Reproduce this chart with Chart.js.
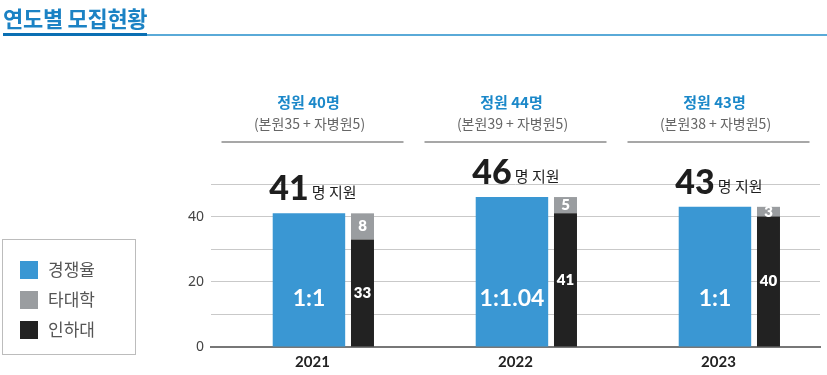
<!DOCTYPE html>
<html>
<head>
<meta charset="utf-8">
<script src="https://cdn.jsdelivr.net/npm/chart.js@4"></script>
<style>
  body { margin: 0; background: #fff; font-family: 'Noto Sans CJK KR', 'Noto Sans', sans-serif; }
  #wrap { position: relative; width: 827px; height: 375px; overflow: hidden; }
  #chartBox { position: absolute; left: 0; top: 0; width: 827px; height: 375px; }
  #title { position: absolute; left: 3px; top: 1px; font-size: 22px; font-weight: 700; color: #1b82c4; letter-spacing: -0.3px; }
  #lineThick { position: absolute; left: 3px; top: 33px; width: 144px; height: 3px; background: #0a6fb3; }
  #lineThin { position: absolute; left: 147px; top: 34px; width: 680px; height: 1.5px; background: #5aaad8; }
  #legend { position: absolute; left: 2px; top: 239px; width: 134px; height: 116px; border: 1.5px solid #bcbcbc; box-sizing: border-box; }
  .item { position: absolute; left: 17px; height: 20px; font-size: 17px; color: #555; line-height: 20px; }
  .item span { display: inline-block; width: 18px; height: 18px; vertical-align: -3px; margin-right: 10px; }
</style>
</head>
<body>
<div id="wrap">
  <div id="chartBox"><canvas id="myChart"></canvas></div>
  <div id="title">연도별 모집현황</div>
  <div id="lineThick"></div>
  <div id="lineThin"></div>
  <div id="legend"></div>
</div>
<script>
const years = ['2021', '2022', '2023'];
const applicants = [41, 46, 43];
const ratioLabels = ['1:1', '1:1.04', '1:1'];
const inhaValues = [33, 41, 40];
const otherValues = [8, 5, 3];
const quotaTotals = [40, 44, 43];
const quotaMain = [35, 39, 38];
const quotaSub = [5, 5, 5];

const legendNames = ['경쟁율', '타대학', '인하대'];
const legendColors = ['#3a97d3', '#9a9da0', '#222222'];

// html legend box
var legendBox = document.getElementById('legend');
for (let i = 0; i < legendNames.length; i++) {
    var div = document.createElement('div');
    div.className = 'item';
    div.style.top = (19 + i * 30) + 'px';
    div.innerHTML = '<span style="background:' + legendColors[i] + '"></span>' + legendNames[i];
    legendBox.appendChild(div);
}

const labelPlugin = {
    id: 'labels',
    afterDatasetsDraw(chart) {
        const c = chart.ctx;
        const x = chart.scales.x;
        const y = chart.scales.y;
        const blue = chart.getDatasetMeta(0).data;
        const black = chart.getDatasetMeta(1).data;
        const grey = chart.getDatasetMeta(2).data;
        c.save();
        c.textAlign = 'center';
        c.textBaseline = 'middle';
        for (let i = 0; i < years.length; i++) {
            // ratio inside blue bar
            c.fillStyle = '#fff';
            c.font = 'bold 23px Lato, "Noto Sans", sans-serif';
            c.fillText(ratioLabels[i], blue[i].x, y.getPixelForValue(15));
            // stacked values
            c.font = '800 15px Lato, "Noto Sans", sans-serif';
            c.fillText(inhaValues[i], black[i].x, (black[i].y + black[i].base) / 2);
            c.fillText(otherValues[i], grey[i].x, (grey[i].y + grey[i].base) / 2);

            // applicants above blue bar
            var bigText = String(applicants[i]);
            var smallText = '명 지원';
            c.font = '900 34px Lato, "Noto Sans", sans-serif';
            var w1 = c.measureText(bigText).width;
            c.font = '15px "Noto Sans CJK KR", sans-serif';
            var w2 = c.measureText(smallText).width;
            var startX = blue[i].x + 4 - (w1 + 3 + w2) / 2;
            var base = blue[i].y - 13;
            c.textAlign = 'left';
            c.textBaseline = 'alphabetic';
            c.fillStyle = '#1e1e1e';
            c.font = '900 34px Lato, "Noto Sans", sans-serif';
            c.fillText(bigText, startX, base);
            c.font = '15px "Noto Sans CJK KR", sans-serif';
            c.fillText(smallText, startX + w1 + 3, base - 2);
            c.textAlign = 'center';
            c.textBaseline = 'middle';

            // quota headings
            var cx = x.getPixelForValue(i);
            c.fillStyle = '#1b88c9';
            c.font = 'bold 15px "Noto Sans CJK KR", sans-serif';
            c.fillText('정원 ' + quotaTotals[i] + '명', cx - 4, 102);
            c.fillStyle = '#666';
            c.font = '14px "Noto Sans CJK KR", sans-serif';
            c.fillText('(본원' + quotaMain[i] + ' + 자병원' + quotaSub[i] + ')', cx - 3, 124);
            c.strokeStyle = '#8a8a8a';
            c.lineWidth = 1.5;
            c.beginPath();
            c.moveTo(cx - 91, 142);
            c.lineTo(cx + 91, 142);
            c.stroke();
        }
        c.restore();
    }
};

const ctx = document.getElementById('myChart');
new Chart(ctx, {
    type: 'bar',
    data: {
        labels: years,
        datasets: [
            {
                label: '경쟁율',
                data: applicants,
                stack: 'a',
                backgroundColor: legendColors[0],
                categoryPercentage: 0.07,
                barPercentage: 10.2
            },
            {
                label: '인하대',
                data: inhaValues,
                stack: 'b',
                backgroundColor: legendColors[2],
                categoryPercentage: 0.985,
                barPercentage: 0.23
            },
            {
                label: '타대학',
                data: otherValues,
                stack: 'b',
                backgroundColor: legendColors[1],
                categoryPercentage: 0.985,
                barPercentage: 0.23
            }
        ]
    },
    options: {
        responsive: true,
        maintainAspectRatio: false,
        animation: false,
        layout: { padding: { left: 0, right: 7, top: 184, bottom: 0 } },
        plugins: { legend: { display: false }, tooltip: { enabled: false } },
        scales: {
            x: {
                stacked: true,
                grid: { display: false, drawTicks: false },
                border: { display: true, color: '#777', width: 2 },
                ticks: { color: '#222', padding: 6, font: { family: 'Lato, "Noto Sans", sans-serif', size: 15, weight: 'bold' } },
                afterFit: function (scale) { scale.height = 28; }
            },
            y: {
                stacked: true,
                min: 0,
                max: 50,
                border: { display: false },
                grid: {
                    drawTicks: false,
                    color: function (c) { return c.tick.value === 0 ? 'transparent' : '#c9c9c9'; }
                },
                ticks: {
                    stepSize: 10,
                    padding: 7,
                    color: '#444',
                    font: { family: '"Noto Sans", sans-serif', size: 14 },
                    callback: function (v) { return v % 20 === 0 ? v : ''; }
                },
                afterFit: function (scale) { scale.width = 211; }
            }
        }
    },
    plugins: [labelPlugin]
});
</script>
</body>
</html>
